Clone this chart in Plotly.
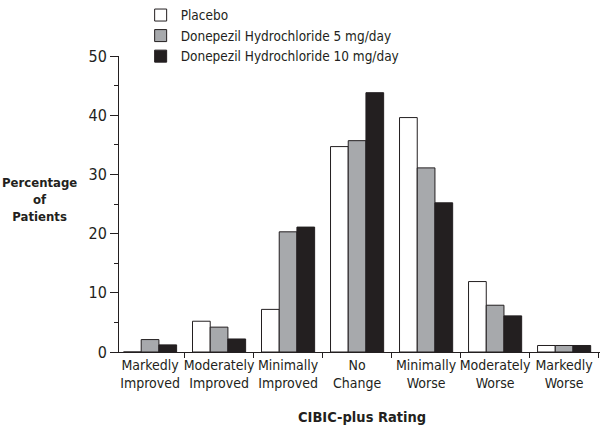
import plotly.graph_objects as go

categories = ["Markedly<br>Improved", "Moderately<br>Improved", "Minimally<br>Improved",
              "No<br>Change", "Minimally<br>Worse", "Moderately<br>Worse", "Markedly<br>Worse"]
placebo = [0, 5.2, 7.2, 34.7, 39.6, 11.9, 1.1]
dose5 = [2.1, 4.2, 20.3, 35.7, 31.1, 7.9, 1.1]
dose10 = [1.2, 2.2, 21.1, 43.8, 25.2, 6.1, 1.1]
series_names = ["Placebo", "Donepezil Hydrochloride 5 mg/day", "Donepezil Hydrochloride 10 mg/day"]
y_ticks = [0, 10, 20, 30, 40, 50]

FONT = "DejaVu Sans Condensed"
TXT = "#231f20"
colors = ["#ffffff", "#a7a9ac", "#231f20"]

fig = go.Figure()
for name, vals, col in zip(series_names, [placebo, dose5, dose10], colors):
    fig.add_trace(go.Bar(
        x=categories, y=vals, name=name,
        marker=dict(color=col, line=dict(color="#231f20", width=1)),
    ))

fig.update_layout(
    width=611, height=429,
    margin=dict(l=119, r=11, t=56, b=77, autoexpand=False),
    paper_bgcolor="white", plot_bgcolor="white",
    barmode="group", bargap=0.23, bargroupgap=0,
    font=dict(family=FONT, size=14, color=TXT),
    showlegend=True,
    legend=dict(
        x=0.045, y=1.19, xanchor="left", yanchor="top",
        bgcolor="rgba(0,0,0,0)", font=dict(size=13.5, family=FONT, color=TXT),
        tracegroupgap=0, itemclick=False,
    ),
    xaxis=dict(
        type="category", range=[-0.45, 6.52],
        showline=True, linecolor=TXT, linewidth=1,
        ticks="outside", tickson="boundaries", ticklen=5, tickcolor=TXT,
        showgrid=False, zeroline=False, tickangle=0, automargin=False,
        tickfont=dict(size=14, family=FONT, color=TXT),
    ),
    yaxis=dict(
        range=[0, 50], tickvals=y_ticks,
        showline=True, linecolor=TXT, linewidth=1,
        ticks="outside", ticklen=8, tickcolor=TXT,
        minor=dict(dtick=5, ticks="outside", ticklen=4, tickcolor=TXT, showgrid=False),
        showgrid=False, zeroline=False, automargin=False,
        tickfont=dict(size=16, family=FONT, color=TXT),
    ),
    annotations=[
        dict(text="<b>Percentage<br>of<br>Patients</b>", xref="paper", yref="paper",
             x=(39 - 119) / 481, y=0.515, xanchor="center", yanchor="middle",
             showarrow=False, font=dict(size=13, family=FONT, color=TXT)),
        dict(text="<b>CIBIC-plus Rating</b>", xref="paper", yref="paper",
             x=(362 - 119) / 481, y=-(417 - 352.5) / 296, xanchor="center", yanchor="middle",
             showarrow=False, font=dict(size=14.5, family=FONT, color=TXT)),
    ],
)

fig.write_html("out.html",
               config={"displayModeBar": False},
               post_script="document.body.style.margin='0';document.body.style.overflow='hidden';")
